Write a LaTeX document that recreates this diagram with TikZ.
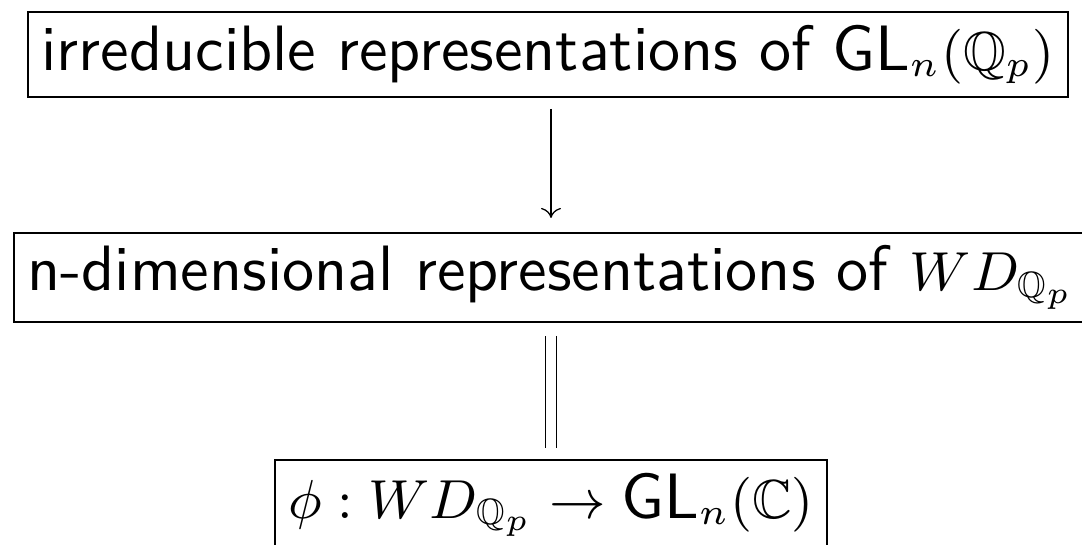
\documentclass[tikz,border=0pt]{standalone}
\usepackage{amsmath}
\usepackage{amssymb}
\usetikzlibrary{arrows.meta,positioning}
\DeclareMathSizes{10.5}{9}{6}{5}

\begin{document}
\begin{tikzpicture}[
    x=0.1638pt, y=-0.1638pt,
    box/.style={draw, line width=0.33pt, inner xsep=2.2pt, inner ysep=0pt, minimum height=13.9pt, font=\fontsize{10.5}{12.6}\selectfont\sffamily},
    arrow/.style={line width=0.21pt, -{Computer Modern Rightarrow[length=1.64pt, width=3.26pt]}, shorten <=1.8pt, shorten >=2.3pt},
    equal/.style={double, line width=0.21pt, double distance=1.58pt, shorten <=2.1pt, shorten >=1.8pt}
]
\useasboundingbox (0,0) rectangle (1082,544);
\clip (0,0) rectangle (1082,544);
\node[box] (irreps) at (548,54.5) {irreducible representations of $\text{GL}_n(\mathbb{Q}_p)$};
\node[box, below=21.95pt of irreps, xshift=0.49pt, minimum height=14.6pt] (ndimrep) {n-dimensional representations of $WD_{\mathbb{Q}_p}$};
\node[box, below=22.3pt of ndimrep, minimum height=14.6pt] (phimap) {$\phi : WD_{\mathbb{Q}_p} \to \text{GL}_n(\mathbb{C})$};

\draw[arrow] (irreps.south -| ndimrep.north) -- (ndimrep.north);
\draw[equal] (ndimrep.south) -- (phimap.north);
\end{tikzpicture}
\end{document}
